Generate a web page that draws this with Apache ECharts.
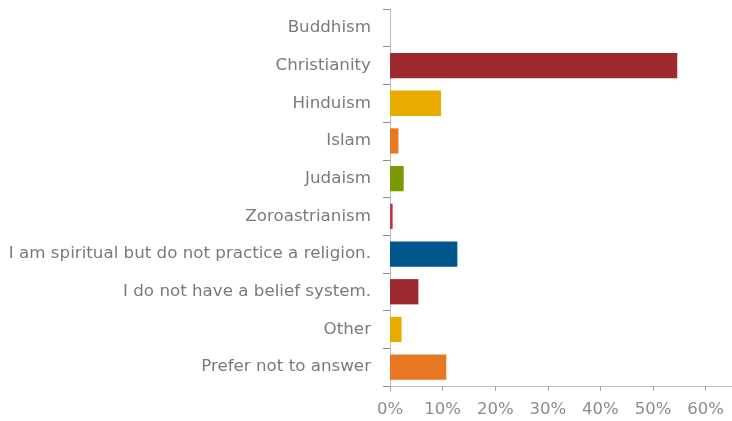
<!DOCTYPE html>
<html>
<head>
<meta charset="utf-8">
<script src="https://cdn.jsdelivr.net/npm/echarts@6/dist/echarts.min.js"></script>
<style>
  html, body { margin: 0; padding: 0; background: #fff; }
  #chart { width: 732px; height: 421px; }
</style>
</head>
<body>
<div id="chart"></div>
<script>
// Religious affiliation shares (percent), listed top to bottom
var categories = [
  'Buddhism',
  'Christianity',
  'Hinduism',
  'Islam',
  'Judaism',
  'Zoroastrianism',
  'I am spiritual but do not practice a religion.',
  'I do not have a belief system.',
  'Other',
  'Prefer not to answer'
];
var shares = [0, 54.6, 9.7, 1.6, 2.6, 0.5, 12.8, 5.4, 2.2, 10.7];
var barColors = ['#9E2A2F', '#9E2A2F', '#EAAB00', '#E87722', '#7A9A01',
                 '#C0343C', '#00558C', '#9E2A2F', '#EAAB00', '#E87722'];
var xTicks = [0, 10, 20, 30, 40, 50, 60];

var chart = echarts.init(document.getElementById('chart'), null, { renderer: 'canvas' });

var font = '"DejaVu Sans", "Open Sans", sans-serif';

chart.setOption({
  animation: false,
  grid: { left: 390, right: 0, top: 9, bottom: 35, containLabel: false },
  xAxis: {
    type: 'value',
    min: 0,
    max: 65,
    interval: 10,
    splitLine: { show: false },
    axisLine: { show: true, lineStyle: { color: '#bfbfbf', width: 1 } },
    axisTick: { show: true, length: 5, lineStyle: { color: '#a6a6a6' } },
    axisLabel: {
      color: '#8c8c8c',
      fontFamily: font,
      fontSize: 16.5,
      margin: 15,
      showMaxLabel: false,
      formatter: function (v) {
        return xTicks.indexOf(v) >= 0 ? v + '%' : '';
      }
    }
  },
  yAxis: {
    type: 'category',
    data: categories,
    inverse: true,
    axisLine: { show: true, lineStyle: { color: '#bfbfbf', width: 1 } },
    axisTick: { show: true, length: 7, lineStyle: { color: '#8c8c8c' } },
    axisLabel: {
      color: '#7a7a7a',
      fontFamily: font,
      fontSize: 16.7,
      margin: 19
    }
  },
  series: [{
    type: 'bar',
    data: shares.map(function (v, i) {
      return { value: v, itemStyle: { color: barColors[i] } };
    }),
    barCategoryGap: '33%'
  }]
});
</script>
</body>
</html>
